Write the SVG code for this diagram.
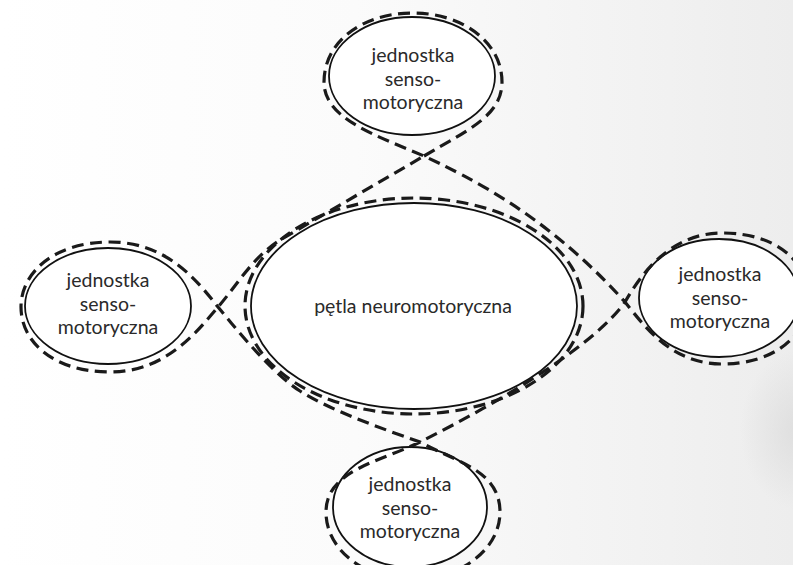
<svg xmlns="http://www.w3.org/2000/svg" width="793" height="565" viewBox="0 0 793 565">
<defs>
<linearGradient id="bg" x1="0" y1="0" x2="1" y2="0">
<stop offset="0" stop-color="#ffffff"/>
<stop offset="0.45" stop-color="#fbfbfb"/>
<stop offset="1" stop-color="#ededed"/>
</linearGradient>
<radialGradient id="blob" cx="0.5" cy="0.5" r="0.5">
<stop offset="0" stop-color="#dedede"/>
<stop offset="1" stop-color="#dedede" stop-opacity="0"/>
</radialGradient>
<style>
.node{fill:#ffffff;stroke:#111111;stroke-width:1.8}
.dash{fill:none;stroke:#1a1a1a;stroke-width:3.2;stroke-dasharray:12 6.5}
.lbl{font-family:Lato,"Open Sans","Liberation Sans",sans-serif;font-size:19.5px;fill:#2a2a2a;text-anchor:middle}
</style>
</defs>
<rect width="793" height="565" fill="url(#bg)"/>
<ellipse cx="800" cy="430" rx="60" ry="80" fill="url(#blob)"/>

<g id="center">
<ellipse class="node" cx="414" cy="306" rx="163" ry="103"/>
<text class="lbl" x="413" y="313" font-size="21.8">pętla neuromotoryczna</text>
</g>
<g id="top">
<ellipse class="node" cx="412" cy="76" rx="83" ry="59"/>
<text class="lbl" x="413" y="62">jednostka</text>
<text class="lbl" x="413" y="85.5">senso-</text>
<text class="lbl" x="413" y="109">motoryczna</text>
</g>
<g id="left">
<ellipse class="node" cx="108" cy="306" rx="83" ry="58"/>
<text class="lbl" x="108" y="287">jednostka</text>
<text class="lbl" x="108" y="310.5">senso-</text>
<text class="lbl" x="108" y="334">motoryczna</text>
</g>
<g id="right">
<ellipse class="node" cx="719" cy="298" rx="80" ry="59"/>
<text class="lbl" x="720" y="281">jednostka</text>
<text class="lbl" x="720" y="304.5">senso-</text>
<text class="lbl" x="720" y="328">motoryczna</text>
</g>
<g id="bottom">
<ellipse class="node" cx="410" cy="507" rx="77" ry="60"/>
<text class="lbl" x="410" y="491">jednostka</text>
<text class="lbl" x="410" y="514.5">senso-</text>
<text class="lbl" x="410" y="538">motoryczna</text>
</g>

<g id="connectors">
<ellipse class="dash" cx="414" cy="306" rx="169" ry="108"/>
<path class="dash" d="M 424,156 C 470,129 502,115 502,82 C 502,42 462,13 413,13 C 362,13 324,42 324,82 C 324,118 372,134 424,156
C 466,176 545,213 625,302
C 645,327 672,364 722,364 C 775,364 808,335 808,298 C 808,260 775,233 722,233 C 672,233 642,272 625,302
C 595,345 500,402 420,442
C 380,462 326,470 326,512 C 326,552 368,580 412,580 C 456,580 500,552 500,512 C 500,470 456,462 420,442
C 380,428 330,410 300,391 C 275,375 245,340 218,307
C 198,282 168,242 110,242 C 55,242 21,272 21,307 C 21,343 55,372 110,372 C 165,372 196,333 218,307
C 238,284 252,258 280,240 L 424,156 Z"/>
</g>
</svg>
